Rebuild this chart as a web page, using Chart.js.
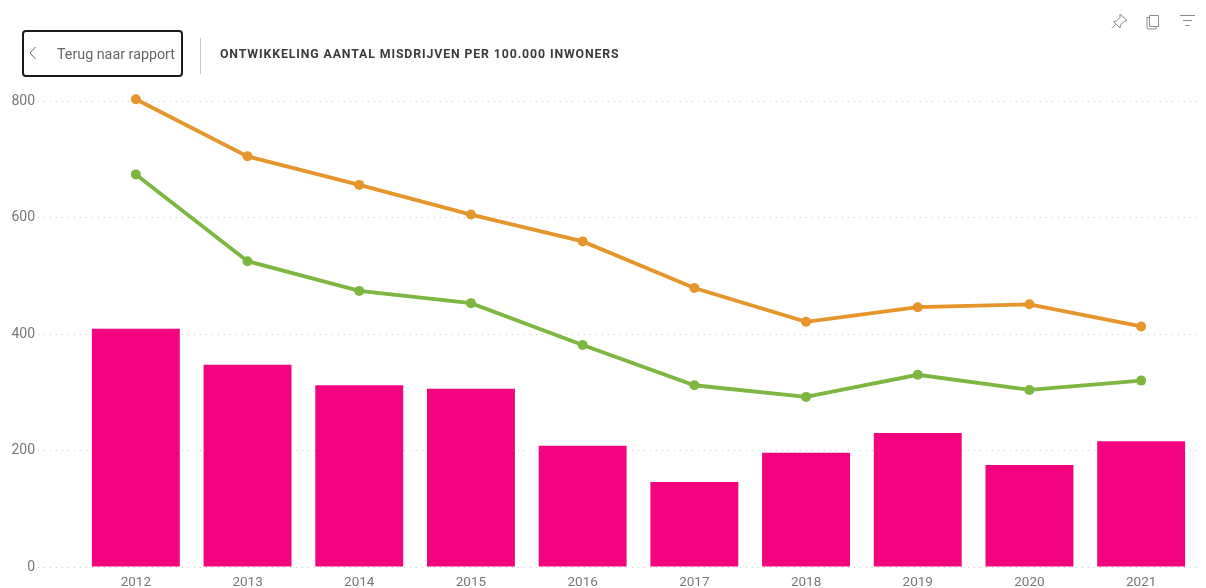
<!DOCTYPE html>
<html lang="nl"><head><meta charset="utf-8">
<script src="https://cdn.jsdelivr.net/npm/chart.js@4"></script>
<style>
html,body{margin:0;padding:0;background:#fff;overflow:hidden}
#wrap{position:relative;width:1206px;height:588px}
canvas{position:absolute;left:0;top:0}
#btn{position:absolute;left:22px;top:30px;width:157px;height:43px;border:2px solid #1c1c1c;border-radius:4px;font:14.3px Roboto,sans-serif;color:#666;line-height:45px}
#btn span{position:absolute;left:33px;top:0;white-space:nowrap}
#btn svg{position:absolute;left:3px;top:13px}
#sep{position:absolute;left:200px;top:38px;width:1px;height:36px;background:#c8c8c8}
#title{position:absolute;left:220px;top:46px;font:700 12.3px/16px Roboto,sans-serif;letter-spacing:0.89px;color:#3b3b3b;white-space:nowrap}
#icons{position:absolute;left:1105px;top:8px}
</style></head><body>
<div id="wrap">
<canvas id="c" width="1206" height="588"></canvas>
<div id="btn"><svg width="12" height="16" viewBox="0 0 12 16"><path d="M8.5 2 L3 8 L8.5 14" fill="none" stroke="#666" stroke-width="1"/></svg><span>Terug naar rapport</span></div>
<div id="sep"></div>
<div id="title">ONTWIKKELING AANTAL MISDRIJVEN PER 100.000 INWONERS</div>
<svg id="icons" width="96" height="26" viewBox="0 0 96 26" fill="none" stroke="#8a8a8a" stroke-width="1">
<path d="M15 6 L22 12.5 L19 13.5 L15.5 17 L15 20 L8.5 13.5 L11.5 13 L15 9.5 Z M10.5 16.5 L7 20.5"/>
<path d="M44.5 7.5 H53.5 V18.5 H44.5 Z M44 9.5 H42 V20 Q42 21 43 21 H51 V19"/>
<path d="M75 7.5 H90 M78 12.5 H87 M80.5 17.5 H84.5"/>
</svg>
</div>
<script>
const categories=["2012","2013","2014","2015","2016","2017","2018","2019","2020","2021"];
const barValues=[409,347,312,306,208,146,196,230,175,216];
const orangeValues=[803,705,656,605,559,479,421,446,451,413];
const greenValues=[674,525,474,453,381,312,292,330,304,320];
const yTicks=[0,200,400,600,800];
const grey='#777';
function lineSet(data,color){return {type:'line',data,borderColor:color,backgroundColor:color,borderWidth:3.8,pointRadius:5,pointHoverRadius:5,pointBorderWidth:0,tension:0,clip:false,order:1};}
new Chart(document.getElementById('c'),{
 type:'bar',
 data:{labels:categories,datasets:[
  lineSet(orangeValues,'#E6952B'),
  lineSet(greenValues,'#7DB742'),
  {type:'bar',data:barValues,backgroundColor:'#F2047E',categoryPercentage:1,barPercentage:0.787,order:2}
 ]},
 options:{
  responsive:false,animation:false,
  layout:{padding:{top:101,right:9,left:0,bottom:0}},
  plugins:{legend:{display:false},tooltip:{enabled:false},title:{display:false}},
  scales:{
   x:{offset:true,grid:{display:false},border:{display:false},
      ticks:{color:grey,font:{family:'Roboto',size:13.5},padding:0,maxRotation:0},
      afterFit(s){s.height=21;}},
   y:{min:0,max:800,afterBuildTicks(s){s.ticks=yTicks.map(v=>({value:v}));},
      border:{display:false,dash:[1,5]},
      grid:{color:'#c8c8c8',tickColor:'#c8c8c8',lineWidth:1,tickWidth:1,tickLength:42,tickBorderDash:[1,5],drawTicks:true},
      ticks:{color:grey,font:{family:'Roboto',size:14},padding:3},
      afterFit(s){s.width=80;}}
  }
 }
});
</script>
</body></html>
